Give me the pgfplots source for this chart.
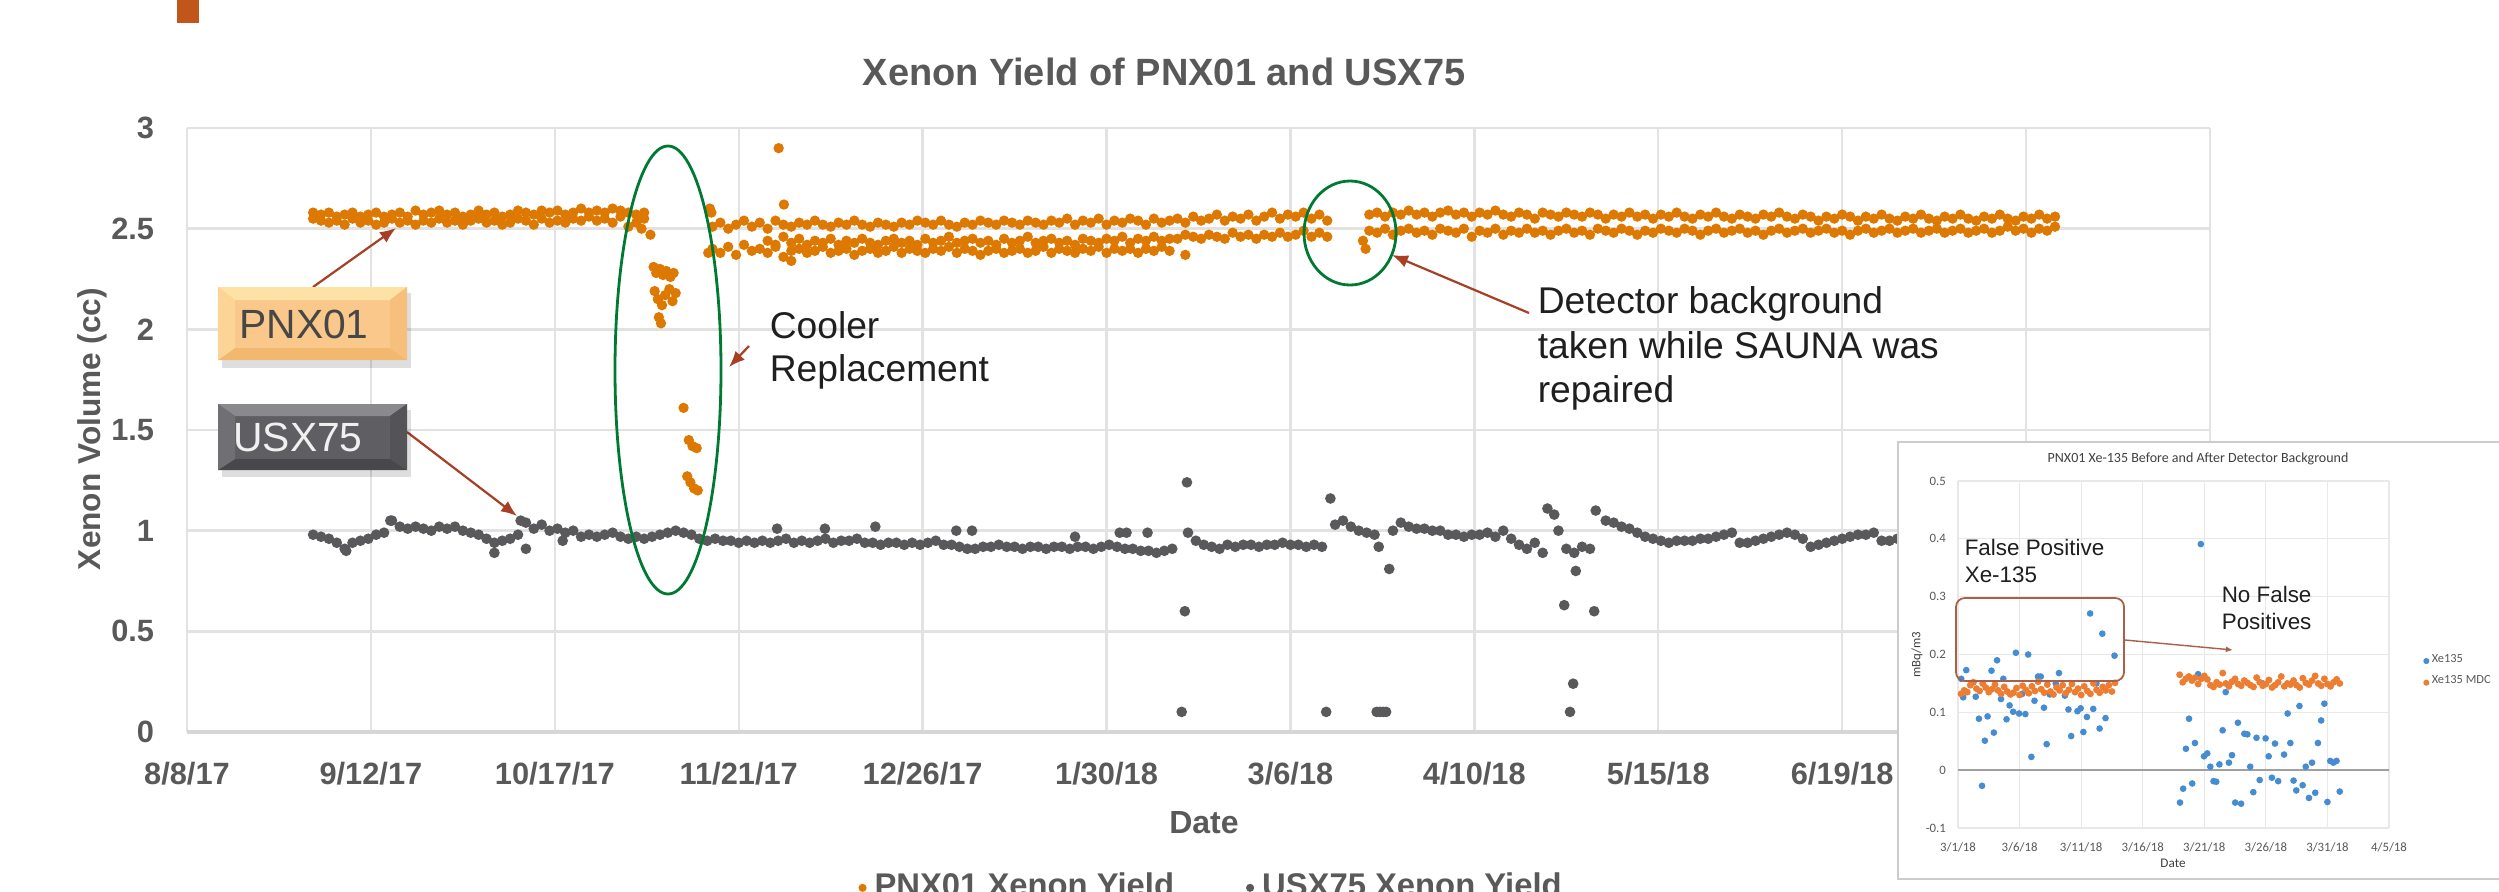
\documentclass[border=0pt]{standalone}
\usepackage{pgfplots}
\pgfplotsset{compat=1.18}
\usepackage{pgfplotstable}
\usepackage{fontspec}
\setmainfont{Liberation Sans}
\newfontfamily\calibri{Carlito}
\usetikzlibrary{arrows.meta}
\definecolor{pnxorange}{RGB}{221,120,0}
\definecolor{usxgray}{RGB}{89,89,92}
\definecolor{labgray}{RGB}{89,89,89}
\definecolor{gridgray}{RGB}{226,226,226}
\definecolor{axgray}{RGB}{214,214,214}
\definecolor{ellgreen}{RGB}{0,122,51}
\definecolor{arrred}{RGB}{168,62,36}
\definecolor{slidebar}{RGB}{192,86,26}
\definecolor{insblue}{RGB}{70,140,210}
\definecolor{insorange}{RGB}{237,125,49}
\definecolor{boxbrown}{RGB}{170,95,75}
\definecolor{zerogray}{RGB}{160,160,160}
\definecolor{gridgray2}{RGB}{232,232,232}
\definecolor{bface}{RGB}{249,200,138}
\definecolor{btop}{RGB}{253,226,166}
\definecolor{bbot}{RGB}{243,184,112}
\definecolor{bleft}{RGB}{251,212,150}
\definecolor{bright}{RGB}{246,192,124}
\definecolor{gface}{RGB}{95,95,99}
\definecolor{gtop}{RGB}{138,138,142}
\definecolor{gbot}{RGB}{72,72,76}
\definecolor{gleft}{RGB}{112,112,116}
\definecolor{gright}{RGB}{84,84,88}

\pgfplotstableread{
d a b c
24 2.58 2.55 nan
25.5 2.57 2.54 nan
27 2.58 2.53 nan
28.5 2.56 2.54 nan
30 2.57 2.52 nan
31.5 2.58 2.55 nan
33 2.56 2.53 nan
34.5 2.57 2.54 nan
36 2.58 2.52 nan
37.5 2.56 2.53 nan
39 2.57 2.55 nan
40.5 2.58 2.53 nan
42 2.56 2.54 nan
43.5 2.59 2.52 nan
45 2.57 2.54 nan
46.5 2.58 2.53 nan
48 2.59 2.55 nan
49.5 2.57 2.53 nan
51 2.58 2.54 nan
52.5 2.56 2.52 nan
54 2.57 2.54 nan
55.5 2.59 2.55 nan
57 2.57 2.53 nan
58.5 2.58 2.54 nan
60 2.56 2.52 nan
61.5 2.57 2.53 nan
63 2.59 2.55 nan
64.5 2.58 2.54 nan
66 2.57 2.52 nan
67.5 2.59 2.55 nan
69 2.58 2.53 nan
70.5 2.59 2.54 nan
72 2.57 2.53 nan
73.5 2.58 2.55 nan
75 2.60 2.54 nan
76.5 2.58 2.56 nan
78 2.59 2.54 nan
79.5 2.58 2.55 nan
81 2.60 2.53 nan
82.5 2.59 2.56 nan
84 2.58 2.51 nan
85.5 2.57 2.53 nan
87 2.58 2.55 nan
100 2.51 2.40 nan
101.5 2.53 2.38 nan
103 2.50 2.41 nan
104.5 2.52 2.37 nan
106 2.54 2.42 nan
107.5 2.51 2.39 nan
109 2.53 2.40 nan
110.5 2.50 2.38 2.44
112 2.54 2.41 2.42
113.5 2.52 2.36 2.46
115 2.51 2.39 2.43
116.5 2.53 2.40 2.45
118 2.52 2.38 2.42
119.5 2.54 2.39 2.44
121 2.52 2.41 2.43
122.5 2.51 2.38 2.45
124 2.53 2.39 2.42
125.5 2.52 2.40 2.44
127 2.54 2.37 2.43
128.5 2.52 2.39 2.45
130 2.51 2.40 2.43
131.5 2.53 2.38 2.42
133 2.52 2.39 2.44
134.5 2.51 2.41 2.45
136 2.53 2.38 2.43
137.5 2.52 2.40 2.44
139 2.54 2.39 2.42
140.5 2.53 2.38 2.45
142 2.52 2.40 2.43
143.5 2.54 2.39 2.44
145 2.52 2.41 2.46
146.5 2.51 2.38 2.43
148 2.53 2.40 2.44
149.5 2.52 2.39 2.45
151 2.54 2.37 2.43
152.5 2.53 2.39 2.44
154 2.52 2.40 2.42
155.5 2.54 2.38 2.45
157 2.53 2.39 2.43
158.5 2.52 2.40 2.44
160 2.54 2.38 2.46
161.5 2.53 2.39 2.43
163 2.52 2.41 2.44
164.5 2.54 2.38 2.45
166 2.53 2.40 2.43
167.5 2.55 2.39 2.44
169 2.52 2.38 2.42
170.5 2.54 2.40 2.45
172 2.53 2.39 2.44
173.5 2.55 2.41 2.43
175 2.52 2.38 2.45
176.5 2.54 2.40 2.44
178 2.53 2.39 2.46
179.5 2.55 2.40 2.43
181 2.54 2.38 2.45
182.5 2.52 2.40 2.44
184 2.55 2.39 2.46
185.5 2.53 2.41 2.44
187 2.54 2.39 2.45
188.5 2.55 nan 2.45
190 2.53 nan 2.47
191.5 2.56 nan 2.46
193 2.54 nan 2.45
194.5 2.55 nan 2.47
196 2.57 nan 2.46
197.5 2.54 nan 2.45
199 2.56 nan 2.48
200.5 2.55 nan 2.46
202 2.57 nan 2.47
203.5 2.54 nan 2.45
205 2.56 nan 2.47
206.5 2.58 nan 2.46
208 2.55 nan 2.48
209.5 2.57 nan 2.46
211 2.56 nan 2.47
212.5 2.58 nan 2.49
214 2.55 nan 2.46
215.5 2.57 nan 2.48
217 2.54 nan 2.46
225 2.57 2.49 nan
226.5 2.58 2.48 nan
228 2.56 2.50 nan
229.5 2.58 2.47 nan
231 2.57 2.49 nan
232.5 2.59 2.50 nan
234 2.57 2.48 nan
235.5 2.58 2.49 nan
237 2.56 2.47 nan
238.5 2.58 2.50 nan
240 2.59 2.49 nan
241.5 2.57 2.48 nan
243 2.58 2.50 nan
244.5 2.56 2.46 nan
246 2.58 2.49 nan
247.5 2.57 2.48 nan
249 2.59 2.50 nan
250.5 2.57 2.47 nan
252 2.56 2.49 nan
253.5 2.58 2.48 nan
255 2.57 2.50 nan
256.5 2.55 2.48 nan
258 2.58 2.49 nan
259.5 2.57 2.47 nan
261 2.56 2.49 nan
262.5 2.58 2.50 nan
264 2.57 2.48 nan
265.5 2.56 2.49 nan
267 2.58 2.47 nan
268.5 2.57 2.50 nan
270 2.55 2.49 nan
271.5 2.57 2.48 nan
273 2.56 2.50 nan
274.5 2.58 2.49 nan
276 2.56 2.47 nan
277.5 2.57 2.49 nan
279 2.55 2.48 nan
280.5 2.57 2.50 nan
282 2.56 2.49 nan
283.5 2.58 2.48 nan
285 2.56 2.50 nan
286.5 2.55 2.49 nan
288 2.57 2.47 nan
289.5 2.56 2.49 nan
291 2.58 2.50 nan
292.5 2.56 2.48 nan
294 2.55 2.49 nan
295.5 2.57 2.50 nan
297 2.56 2.48 nan
298.5 2.55 2.49 nan
300 2.57 2.47 nan
301.5 2.56 2.49 nan
303 2.58 2.50 nan
304.5 2.56 2.48 nan
306 2.55 2.49 nan
307.5 2.57 2.50 nan
309 2.56 2.48 nan
310.5 2.54 2.49 nan
312 2.56 2.50 nan
313.5 2.55 2.48 nan
315 2.57 2.49 nan
316.5 2.56 2.47 nan
318 2.54 2.49 nan
319.5 2.56 2.50 nan
321 2.55 2.48 nan
322.5 2.57 2.49 nan
324 2.55 2.50 nan
325.5 2.54 2.48 nan
327 2.56 2.49 nan
328.5 2.55 2.50 nan
330 2.57 2.48 nan
331.5 2.55 2.49 nan
333 2.54 2.50 nan
334.5 2.56 2.48 nan
336 2.55 2.49 nan
337.5 2.57 2.50 nan
339 2.55 2.48 nan
340.5 2.54 2.49 nan
342 2.56 2.50 nan
343.5 2.55 2.48 nan
345 2.57 2.49 nan
346.5 2.55 2.51 nan
348 2.54 2.49 nan
349.5 2.56 2.50 nan
351 2.55 2.48 nan
352.5 2.57 2.50 nan
354 2.55 2.49 nan
355.5 2.56 2.51 nan
}\pnxtab

\pgfplotstableread{
d v
24 0.98
25.5 0.97
27 0.96
28.5 0.94
30 0.91
31.5 0.94
33 0.95
34.5 0.96
36 0.98
37.5 0.99
39 1.05
40.5 1.02
42 1.01
43.5 1.02
45 1.01
46.5 1.00
48 1.02
49.5 1.01
51 1.02
52.5 1.00
54 0.99
55.5 0.98
57 0.96
58.5 0.94
60 0.95
61.5 0.96
63 0.98
64.5 1.04
66 1.01
67.5 1.03
69 1.00
70.5 1.01
72 0.99
73.5 1.00
75 0.97
76.5 0.98
78 0.97
79.5 0.98
81 0.99
82.5 0.97
84 0.96
85.5 0.97
87 0.96
88.5 0.97
90 0.98
91.5 0.99
93 1.00
94.5 0.99
96 0.98
97.5 0.96
99 0.95
100.5 0.96
102 0.95
103.5 0.95
105 0.94
106.5 0.95
108 0.94
109.5 0.95
111 0.94
112.5 0.95
114 0.96
115.5 0.94
117 0.95
118.5 0.94
120 0.95
121.5 0.96
123 0.94
124.5 0.95
126 0.95
127.5 0.96
129 0.94
130.5 0.94
132 0.93
133.5 0.94
135 0.94
136.5 0.93
138 0.94
139.5 0.93
141 0.94
142.5 0.95
144 0.93
145.5 0.93
147 0.92
148.5 0.91
150 0.91
151.5 0.92
153 0.92
154.5 0.93
156 0.92
157.5 0.92
159 0.91
160.5 0.92
162 0.92
163.5 0.91
165 0.92
166.5 0.92
168 0.91
169.5 0.92
171 0.92
172.5 0.91
174 0.92
175.5 0.93
177 0.92
178.5 0.91
180 0.91
181.5 0.90
183 0.90
184.5 0.89
186 0.90
187.5 0.91
190.5 0.99
192 0.95
193.5 0.93
195 0.92
196.5 0.91
198 0.93
199.5 0.92
201 0.93
202.5 0.93
204 0.92
205.5 0.93
207 0.93
208.5 0.94
210 0.93
211.5 0.93
213 0.92
214.5 0.93
216 0.92
218.5 1.03
220 1.05
221.5 1.02
223 1.00
224.5 0.99
226 0.98
229.5 1.00
231 1.04
232.5 1.02
234 1.01
235.5 1.01
237 1.00
238.5 1.00
240 0.98
241.5 0.98
243 0.97
244.5 0.98
246 0.98
247.5 0.99
249 0.97
250.5 1.00
252 0.96
253.5 0.93
255 0.91
256.5 0.94
258 0.89
261 1.00
262.5 0.91
264 0.89
265.5 0.92
267 0.91
270 1.05
271.5 1.04
273 1.02
274.5 1.01
276 0.99
277.5 0.97
279 0.96
280.5 0.95
282 0.94
283.5 0.95
285 0.95
286.5 0.95
288 0.96
289.5 0.96
291 0.97
292.5 0.98
294 0.99
295.5 0.94
297 0.94
298.5 0.95
300 0.96
301.5 0.97
303 0.98
304.5 0.99
306 0.98
307.5 0.96
309 0.92
310.5 0.93
312 0.94
313.5 0.95
315 0.96
316.5 0.97
318 0.98
319.5 0.98
321 0.99
322.5 0.95
324 0.95
325.5 0.96
327 0.94
328.5 0.95
330 0.96
}\usxtab

\begin{document}
\begin{tikzpicture}
\useasboundingbox (0,0) rectangle (624.75pt,-222.75pt);
\fill[white] (0,0) rectangle (624.75pt,-222.75pt);

\begin{axis}[
  at={(46.75pt,-183pt)}, anchor=south west,
  scale only axis, width=505.75pt, height=151pt,
  xmin=0, xmax=385, ymin=0, ymax=3,
  axis line style={draw=none},
  major tick length=0pt,
  xtick={0,35,...,385},
  xticklabels={8/8/17,9/12/17,10/17/17,11/21/17,12/26/17,1/30/18,3/6/18,4/10/18,5/15/18,6/19/18,7/24/18,8/28/18},
  ytick={0,0.5,1,1.5,2,2.5,3},
  yticklabels={0,0.5,1,1.5,2,2.5,3},
  grid=major, grid style={gridgray, line width=0.6pt},
  extra y ticks={0}, extra y tick labels={},
  extra y tick style={grid style={axgray, line width=0.8pt}},
  tick label style={font=\fontsize{7.7}{9}\selectfont\bfseries, text=labgray},
  xticklabel style={yshift=-3.9pt},
  yticklabel style={xshift=-4.7pt},
  legend style={at={(0.5077,-0.258)}, anchor=center, draw=none, fill=none,
    font=\fontsize{8.2}{9}\selectfont\bfseries, text=labgray,
    legend columns=2, /tikz/every even column/.append style={column sep=16pt}},
  legend image code/.code={\fill (0.15cm,0cm) circle (0.8pt);},
]
\addplot[only marks, mark=*, mark size=1.08pt, color=pnxorange] table[x=d,y=a]{\pnxtab};
\addlegendentry{PNX01 Xenon Yield}
\addplot[only marks, mark=*, mark size=1.08pt, color=pnxorange, forget plot] table[x=d,y=b]{\pnxtab};
\addplot[only marks, mark=*, mark size=1.08pt, color=pnxorange, forget plot] table[x=d,y=c]{\pnxtab};
\addplot[only marks, mark=*, mark size=1.08pt, color=pnxorange, forget plot] coordinates {
(86.5,2.50) (88.2,2.47) (88.8,2.31) (89.3,2.28) (90.0,2.30) (90.6,2.27) (91.2,2.29)
(92.0,2.26) (92.6,2.28) (89.0,2.19) (89.6,2.15) (90.4,2.12) (91.0,2.17) (91.8,2.20)
(92.4,2.14) (93.0,2.18) (89.8,2.06) (90.2,2.03) (94.5,1.61) (95.5,1.45) (96.2,1.42)
(97.0,1.41) (95.2,1.27) (95.8,1.24) (96.5,1.21) (97.2,1.20) (99.5,2.60) (99.8,2.58)
(99.2,2.38) (112.6,2.90) (113.6,2.62) (115,2.34) (190,2.37) (223.8,2.44) (224.3,2.40)};
\addplot[only marks, mark=*, mark size=1.12pt, color=usxgray] table[x=d,y=v]{\usxtab};
\addlegendentry{USX75 Xenon Yield}
\addplot[only marks, mark=*, mark size=1.12pt, color=usxgray, forget plot] coordinates {
(30.3,0.90) (38.7,1.05) (58.5,0.89) (63.5,1.05) (64.5,0.91) (71.5,0.95)
(112.3,1.01) (121.4,1.01) (131,1.02) (146.4,1.00) (149.4,1.00) (169,0.97)
(177.5,0.99) (178.8,0.99) (182.8,0.99)
(189.3,0.10) (189.9,0.60) (190.3,1.24) (216.8,0.10) (217.6,1.16)
(226.4,0.10) (227.0,0.10) (227.6,0.10) (228.2,0.10) (228.8,0.81) (226.8,0.92)
(258.9,1.11) (260.2,1.08) (262.1,0.63) (263.2,0.10) (263.8,0.24) (264.3,0.80)
(267.8,0.60) (268.1,1.10)};
\end{axis}

\begin{scope}[x=0.25pt,y=-0.25pt]
  % slide decoration
  \fill[slidebar] (177,0) rectangle (199,23);
  % title and axis labels
  \node[anchor=base, font=\fontsize{9.5}{11}\selectfont\bfseries, text=labgray] at (1164,85) {Xenon Yield of PNX01 and USX75};
  \node[anchor=base, font=\fontsize{8}{9}\selectfont\bfseries, text=labgray] at (1204,833) {Date};
  \node[rotate=90, font=\fontsize{7.9}{9}\selectfont\bfseries, text=labgray] at (92,429) {Xenon Volume (cc)};
  % ellipses
  \draw[ellgreen, line width=0.7pt] (668,370) ellipse [x radius=13.25pt, y radius=56pt];
  \draw[ellgreen, line width=0.7pt] (1350,233) ellipse [x radius=11.5pt, y radius=13pt];
  % arrows
  \draw[arrred, line width=0.55pt, -{Latex[length=4pt,width=3.2pt]}] (313,287) -- (396,228);
  \draw[arrred, line width=0.55pt, -{Latex[length=4pt,width=3.2pt]}] (407,432) -- (517,516);
  \draw[arrred, line width=0.55pt, -{Latex[length=4pt,width=3.2pt]}] (749,346) -- (729,367);
  \draw[arrred, line width=0.55pt, -{Latex[length=4pt,width=3.2pt]}] (1529,313) -- (1392,255);
  % PNX01 box
  \fill[black, opacity=0.13] (222,293) rectangle (411,368);
  \fill[bface] (218,287) rectangle (407,360);
  \fill[btop] (218,287) -- (407,287) -- (390,300) -- (235,300) -- cycle;
  \fill[bbot] (218,360) -- (407,360) -- (390,348) -- (235,348) -- cycle;
  \fill[bleft] (218,287) -- (235,300) -- (235,348) -- (218,360) -- cycle;
  \fill[bright] (407,287) -- (390,300) -- (390,348) -- (407,360) -- cycle;
  \node[font=\fontsize{10.2}{12}\selectfont, text=black!72] at (304,324) {PNX01};
  % USX75 box
  \fill[black, opacity=0.13] (222,410) rectangle (411,477);
  \fill[gface] (218,404) rectangle (407,470);
  \fill[gtop] (218,404) -- (407,404) -- (390,416) -- (235,416) -- cycle;
  \fill[gbot] (218,470) -- (407,470) -- (390,459) -- (235,459) -- cycle;
  \fill[gleft] (218,404) -- (235,416) -- (235,459) -- (218,470) -- cycle;
  \fill[gright] (407,404) -- (390,416) -- (390,459) -- (407,470) -- cycle;
  \node[font=\fontsize{10.2}{12}\selectfont, text=white!94!black] at (298,437) {USX75};
  % texts
  \begin{scope}[every node/.style={inner sep=0pt, anchor=base west, font=\fontsize{9.3}{11}\selectfont, text=black!88}]
  \node at (769,338) {Cooler};
  \node at (769,381) {Replacement};
  \node at (1537,313) {Detector background};
  \node at (1537,358) {taken while SAUNA was};
  \node at (1537,402) {repaired};
  \end{scope}
  % inset background
  \fill[white] (1898,442) rectangle (2520,880);
  \draw[black!20, line width=0.5pt] (2520,442) -- (1898,442) -- (1898,879) -- (2520,879);
\end{scope}

\begin{axis}[
  at={(489.5pt,-207pt)}, anchor=south west,
  scale only axis, width=107.75pt, height=86.75pt,
  xmin=0, xmax=35, ymin=-0.1, ymax=0.5,
  axis line style={draw=none},
  major tick length=0pt,
  xtick={0,5,10,15,20,25,30,35},
  xticklabels={3/1/18,3/6/18,3/11/18,3/16/18,3/21/18,3/26/18,3/31/18,4/5/18},
  ytick={-0.1,0,0.1,0.2,0.3,0.4,0.5},
  yticklabels={-0.1,0,0.1,0.2,0.3,0.4,0.5},
  grid=major, grid style={gridgray2, line width=0.3pt},
  extra y ticks={0}, extra y tick labels={},
  extra y tick style={grid style={zerogray, line width=0.5pt}},
  tick label style={font=\calibri\fontsize{3.2}{4}\selectfont, text=labgray},
  xticklabel style={yshift=0pt},
  yticklabel style={xshift=0.5pt},
  legend style={at={(1.05,0.45)}, anchor=west, draw=none, fill=none,
    font=\calibri\fontsize{3.1}{4}\selectfont, text=labgray, row sep=0.7pt,
    nodes={inner sep=0.6pt}, cells={anchor=west}},
  legend image code/.code={\fill (0cm,0cm) circle (0.55pt);},
]
\addplot[only marks, mark=*, mark size=0.62pt, color=insblue] coordinates {
(0.26,0.158) (0.42,0.126) (0.67,0.173) (1.1,0.150) (1.44,0.127) (1.7,0.089) (1.95,-0.027)
(2.18,0.051) (2.4,0.093) (2.72,0.172) (2.91,0.065) (3.17,0.190) (3.49,0.123) (3.68,0.158)
(3.94,0.088) (4.19,0.112) (4.48,0.101) (4.7,0.203) (4.96,0.098) (5.22,0.132) (5.47,0.097)
(5.7,0.200) (5.96,0.023) (6.21,0.120) (6.5,0.162) (6.72,0.162) (6.98,0.108) (7.2,0.045)
(7.46,0.131) (7.94,0.150) (8.2,0.168) (8.68,0.129) (8.97,0.105) (9.19,0.059) (9.7,0.102)
(9.96,0.107) (10.18,0.066) (10.47,0.092) (10.73,0.271) (10.98,0.106) (11.24,0.150)
(11.5,0.072) (11.72,0.236) (11.98,0.090) (12.71,0.198)
(18.03,-0.056) (18.28,-0.032) (18.51,0.037) (18.76,0.089) (19.02,-0.023) (19.24,0.047)
(19.5,0.166) (19.72,0.391) (19.98,0.024) (20.24,0.029) (20.49,0.006) (20.75,-0.019)
(20.97,-0.020) (21.23,0.010) (21.49,0.069) (21.74,0.135) (22.0,0.013) (22.25,0.026)
(22.51,-0.056) (22.73,0.082) (22.99,-0.058) (23.25,0.063) (23.5,0.062) (23.73,0.006)
(23.98,-0.038) (24.24,0.056) (24.5,-0.017) (24.75,0.150) (24.98,0.055) (25.23,0.024)
(25.49,-0.013) (25.74,0.046) (26.0,-0.019) (26.48,0.027) (26.77,0.098) (26.99,0.047)
(27.25,-0.018) (27.47,-0.035) (27.73,0.111) (27.99,-0.026) (28.24,0.006) (28.5,-0.048)
(28.75,0.013) (29.01,-0.039) (29.23,0.047) (29.49,0.086) (29.75,0.115) (30.0,-0.055)
(30.23,0.016) (30.48,0.013) (30.74,0.016) (31.0,-0.037)};
\addlegendentry{Xe135}
\addplot[only marks, mark=*, mark size=0.65pt, color=insorange] coordinates {
(0.25,0.132)(0.5,0.138)(0.75,0.135)(1,0.147)(1.25,0.152)(1.5,0.141)(1.75,0.137)(2,0.150)
(2.25,0.143)(2.5,0.135)(2.75,0.140)(3,0.148)(3.25,0.138)(3.5,0.132)(3.75,0.144)(4,0.136)
(4.25,0.131)(4.5,0.134)(4.75,0.142)(5,0.130)(5.25,0.146)(5.5,0.139)(5.75,0.133)(6,0.145)
(6.25,0.137)(6.5,0.153)(6.75,0.140)(7,0.134)(7.25,0.148)(7.5,0.136)(7.75,0.131)(8,0.143)
(8.25,0.138)(8.5,0.147)(8.75,0.133)(9,0.139)(9.25,0.149)(9.5,0.135)(9.75,0.141)(10,0.130)
(10.25,0.145)(10.5,0.137)(10.75,0.132)(11,0.150)(11.25,0.139)(11.5,0.134)(11.75,0.144)
(12,0.138)(12.25,0.147)(12.5,0.136)(12.75,0.151)
(18,0.165)(18.25,0.152)(18.5,0.158)(18.75,0.162)(19,0.155)(19.25,0.160)(19.5,0.149)
(19.75,0.158)(20,0.163)(20.25,0.157)(20.5,0.147)(20.75,0.144)(21,0.152)(21.25,0.148)
(21.5,0.168)(21.75,0.150)(22,0.145)(22.25,0.153)(22.5,0.158)(22.75,0.149)(23,0.146)
(23.25,0.155)(23.5,0.151)(23.75,0.147)(24,0.144)(24.25,0.160)(24.5,0.152)(24.75,0.146)
(25,0.149)(25.25,0.156)(25.5,0.143)(25.75,0.147)(26,0.152)(26.25,0.162)(26.5,0.145)
(26.75,0.150)(27,0.148)(27.25,0.155)(27.5,0.147)(27.75,0.143)(28,0.159)(28.25,0.151)
(28.5,0.148)(28.75,0.155)(29,0.163)(29.25,0.150)(29.5,0.146)(29.75,0.158)(30,0.149)
(30.25,0.145)(30.5,0.152)(30.75,0.157)(31,0.150)};
\addlegendentry{Xe135 MDC}
\end{axis}

\begin{scope}[x=0.25pt,y=-0.25pt]
  \node[anchor=base, font=\calibri\fontsize{3.5}{4}\selectfont, text=black!75] at (2198,462) {PNX01 Xe-135 Before and After Detector Background};
  \node[anchor=base, font=\calibri\fontsize{3.3}{4}\selectfont, text=black!75] at (2173,867) {Date};
  \node[rotate=90, font=\calibri\fontsize{3.2}{4}\selectfont, text=black!75] at (1917,655) {mBq/m3};
  \draw[boxbrown, line width=0.45pt, rounded corners=2.2pt] (1956,598) rectangle (2124,681);
  \draw[boxbrown, line width=0.35pt, -{Latex[length=1.8pt,width=1.5pt]}] (2125,640) -- (2233,650);
  \begin{scope}[every node/.style={inner sep=0pt, anchor=base west, font=\fontsize{5.6}{7}\selectfont, text=black!88}]
  \node at (1964,555) {False Positive};
  \node at (1964,582) {Xe-135};
  \node at (2221,602) {No False};
  \node at (2221,629) {Positives};
  \end{scope}
\end{scope}
\end{tikzpicture}
\end{document}
